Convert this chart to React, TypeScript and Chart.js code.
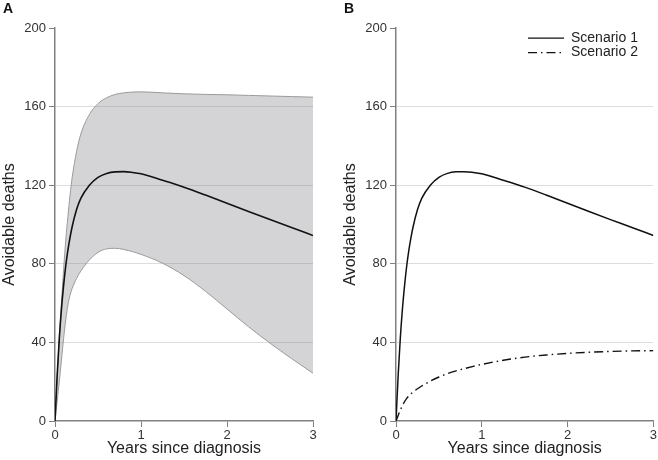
import React, { useEffect, useRef } from "react";
import { Chart, registerables } from "chart.js";

Chart.register(...registerables);

// ---- data ----
const years = [0, 0.025, 0.05, 0.075, 0.1, 0.125, 0.15, 0.175, 0.2, 0.25, 0.3, 0.4, 0.5, 0.6, 0.7, 0.8, 0.9, 1.0, 1.25, 1.5, 1.75, 2.0, 2.25, 2.5, 2.75, 3.0];
const scenario1 = [0, 23, 42, 57, 69, 79, 87, 93.5, 99, 107.5, 113.3, 120, 124, 126, 126.8, 126.9, 126.5, 125.8, 122.5, 119, 115, 110.8, 106.6, 102.5, 98.5, 94.4];
const scenario1Upper = [0, 22, 42, 60, 77, 92, 104, 115, 124, 137, 146, 156, 161.5, 164.5, 166.2, 167, 167.4, 167.5, 167, 166.5, 166.2, 166, 165.7, 165.4, 165.1, 164.8];
const scenario1Lower = [0, 10, 20, 31, 42, 51.5, 59, 64, 67.5, 72.5, 76.3, 82, 85.8, 87.6, 87.9, 87.3, 86.2, 84.8, 80.3, 74, 66, 57, 48, 39.6, 31.8, 24.3];
const scenario2 = [0, 2.8, 5.5, 7.9, 9.9, 11.5, 12.8, 13.9, 14.8, 16.4, 17.8, 20.3, 22.4, 24.1, 25.5, 26.7, 27.8, 28.8, 30.9, 32.5, 33.6, 34.4, 35, 35.4, 35.7, 35.8];
const seriesNames = ["Scenario 1", "Scenario 2"];
const panelLabels = ["A", "B"];
const yMin = 0;
const yMax = 200;
const yStep = 40;
const xMin = 0;
const xMax = 3;
const xStep = 1;
const xTitle = "Years since diagnosis";
const yTitle = "Avoidable deaths";

const FONT = "'Liberation Sans', Arial, Helvetica, sans-serif";
const AXIS = "#808080";

const toXY = (ys: number[]) => years.map((x, i) => ({ x, y: ys[i] }));

function makeScales() {
  return {
    x: {
      type: "linear",
      min: xMin,
      max: xMax,
      ticks: { stepSize: xStep, font: { family: FONT, size: 13 }, color: "#333", padding: 1, maxRotation: 0 },
      grid: { drawOnChartArea: false, drawTicks: true, tickLength: 6, tickColor: AXIS, tickWidth: 1 },
      border: { color: AXIS, width: 1.5 },
      title: {
        display: true,
        text: xTitle,
        font: { family: FONT, size: 16 },
        color: "#222",
        padding: { top: 0, bottom: 2 },
      },
      afterFit: (s: any) => {
        s.height = 39;
      },
    },
    y: {
      type: "linear",
      min: yMin,
      max: yMax,
      ticks: { stepSize: yStep, font: { family: FONT, size: 13 }, color: "#333", padding: 3 },
      grid: {
        color: (c: any) =>
          c.tick && (c.tick.value === yMin || c.tick.value === yMax) ? "rgba(0,0,0,0)" : "#dddddd",
        lineWidth: 1,
        tickLength: 6,
        tickColor: AXIS,
        tickWidth: 1,
      },
      border: { color: AXIS, width: 1.5 },
      title: {
        display: true,
        text: yTitle,
        font: { family: FONT, size: 16, lineHeight: 1 },
        color: "#222",
        padding: { top: -1.5, bottom: 0 },
      },
      afterFit: (s: any) => {
        s.width = 52;
      },
    },
  };
}

function makeTitle(text: string) {
  return {
    display: true,
    text,
    align: "start",
    color: "#111",
    font: { family: FONT, size: 14, weight: "bold", lineHeight: 1.2 },
    padding: { top: 1, bottom: 10.2 },
  };
}

const legendPlacer = {
  id: "legendPlacer",
  afterLayout(chart: any) {
    const lg = chart.legend;
    if (!lg || !lg.options.display) return;
    lg.left = 186.5;
    lg.top = 30.6;
  },
};

const lineBase = {
  pointRadius: 0,
  pointHoverRadius: 0,
  cubicInterpolationMode: "monotone",
  fill: false,
};

function PanelA() {
  const ref = useRef<HTMLCanvasElement>(null);
  useEffect(() => {
    const chart = new Chart(ref.current as HTMLCanvasElement, {
      type: "line",
      data: {
        datasets: [
          { ...lineBase, label: seriesNames[0], data: toXY(scenario1), borderColor: "#111", borderWidth: 1.6 },
          { ...lineBase, label: "upper", data: toXY(scenario1Upper), borderColor: "#9a9a9a", borderWidth: 1 },
          {
            ...lineBase,
            label: "lower",
            data: toXY(scenario1Lower),
            borderColor: "#9a9a9a",
            borderWidth: 1,
            fill: "-1",
            backgroundColor: "rgba(120,122,128,0.32)",
          },
        ],
      } as any,
      options: {
        responsive: false,
        animation: false,
        events: [],
        layout: { padding: { left: 3, right: 28, top: 0, bottom: 0 } },
        scales: makeScales() as any,
        plugins: {
          legend: { display: false },
          tooltip: { enabled: false },
          title: makeTitle(panelLabels[0]) as any,
        },
      },
    });
    return () => chart.destroy();
  }, []);
  return <canvas ref={ref} width={341} height={460} style={{ display: "block" }} />;
}

function PanelB() {
  const ref = useRef<HTMLCanvasElement>(null);
  useEffect(() => {
    const chart = new Chart(ref.current as HTMLCanvasElement, {
      type: "line",
      data: {
        datasets: [
          { ...lineBase, label: seriesNames[0], data: toXY(scenario1), borderColor: "#111", borderWidth: 1.5 },
          {
            ...lineBase,
            label: seriesNames[1],
            data: toXY(scenario2),
            borderColor: "#111",
            borderWidth: 1.4,
            borderDash: [9, 4, 1.5, 4],
          },
        ],
      } as any,
      options: {
        responsive: false,
        animation: false,
        events: [],
        layout: { padding: { left: 3, right: 4, top: 0, bottom: 0 } },
        scales: makeScales() as any,
        plugins: {
          legend: {
            display: true,
            position: "chartArea",
            align: "start",
            labels: {
              usePointStyle: true,
              pointStyle: "line",
              pointStyleWidth: 36,
              boxHeight: 14,
              padding: 0.5,
              color: "#222",
              font: { family: FONT, size: 14 },
              generateLabels: (chart: any) => {
                const items = (Chart.defaults.plugins.legend.labels as any).generateLabels(chart);
                return items.map((it: any) => {
                  const ds = chart.data.datasets[it.datasetIndex];
                  return {
                    ...it,
                    pointStyle: "line",
                    lineDash: ds.borderDash || [],
                    lineWidth: 1.4,
                    strokeStyle: ds.borderColor,
                    fillStyle: ds.borderColor,
                  };
                });
              },
            },
          } as any,
          tooltip: { enabled: false },
          title: makeTitle(panelLabels[1]) as any,
        },
      },
      plugins: [legendPlacer],
    });
    return () => chart.destroy();
  }, []);
  return <canvas ref={ref} width={317} height={460} style={{ display: "block" }} />;
}

export default function App() {
  return (
    <div style={{ position: "absolute", left: 0, top: 0, width: 658, height: 460, overflow: "hidden", background: "#fff" }}>
      <div style={{ position: "absolute", left: 0, top: 0, width: 341, height: 460 }}>
        <PanelA />
      </div>
      <div style={{ position: "absolute", left: 341, top: 0, width: 317, height: 460 }}>
        <PanelB />
      </div>
    </div>
  );
}
